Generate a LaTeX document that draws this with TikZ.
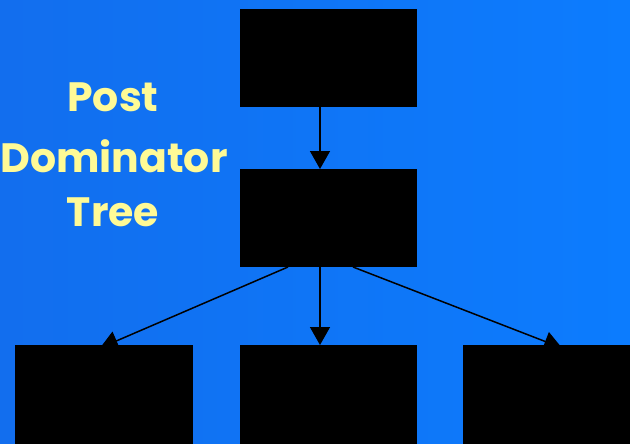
\documentclass[tikz,border=0pt]{standalone}
\usepackage{fontspec}
\setmainfont{Poppins}
\usetikzlibrary{arrows.meta}
\definecolor{bgleft}{RGB}{18,110,238}
\definecolor{bgright}{RGB}{12,124,254}
\definecolor{titleyellow}{RGB}{255,250,150}
\tikzset{
  block/.style={fill=black, draw=none, anchor=north west, inner sep=0pt},
  edge/.style={line width=1.5pt, -{Triangle[width=20pt,length=18pt]}},
  title/.style={text=titleyellow, font=\fontsize{41}{41}\selectfont\bfseries, anchor=center, inner sep=0pt}
}
\begin{document}
\begin{tikzpicture}[x=1pt,y=-1pt]
  \useasboundingbox (0,0) rectangle (630,444);
  \shade[left color=bgleft, right color=bgright] (0,0) rectangle (630,444);

  % heading
  \node[title] (t1) at (113,97) {Post};
  \node[title] (t2) at (114,156) {Dominator};
  \node[title] (t3) at (113,212) {Tree};

  % anchors for the connectors
  \coordinate (rootS) at (320,107);
  \coordinate (midN) at (320,169);
  \coordinate (midSW) at (288,267);
  \coordinate (midS) at (320,267);
  \coordinate (midSE) at (353,267);
  \coordinate (leftTip) at (100,348);
  \coordinate (centTip) at (320,345);
  \coordinate (rightTip) at (562,348);

  \draw[edge] (rootS) -- (midN);
  \draw[edge] (midSW) -- (leftTip);
  \draw[edge] (midS) -- (centTip);
  \draw[edge] (midSE) -- (rightTip);

  % tree nodes
  \node[block, minimum width=177pt, minimum height=98pt] (root) at (240,9) {};
  \node[block, minimum width=177pt, minimum height=98pt] (mid) at (240,169) {};
  \node[block, minimum width=178pt, minimum height=100pt] (leaf1) at (15,345) {};
  \node[block, minimum width=177pt, minimum height=100pt] (leaf2) at (240,345) {};
  \node[block, minimum width=167pt, minimum height=100pt] (leaf3) at (463,345) {};
\end{tikzpicture}
\end{document}
